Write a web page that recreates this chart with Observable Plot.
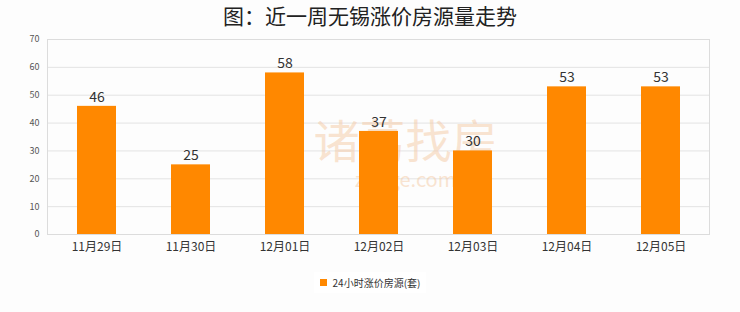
<!DOCTYPE html>
<html>
<head>
<meta charset="utf-8">
<script src="https://cdn.jsdelivr.net/npm/d3@7"></script>
<script src="https://cdn.jsdelivr.net/npm/@observablehq/plot@0.6"></script>
<style>
  html, body { margin: 0; padding: 0; background: #fdfdfd; width: 740px; height: 312px; overflow: hidden; }
  #title { height: 30px; line-height: 30px; text-align: center; font-family: "Noto Sans CJK SC", sans-serif; font-size: 21px; color: #222; }
  #legend { height: 24px; display: flex; justify-content: center; align-items: center; font-family: "Noto Sans CJK SC", sans-serif; font-size: 10px; color: #333; }
  #legend .box { display: flex; align-items: center; background: #fff; padding: 3px 6px; }
  #legend .sw { width: 7px; height: 7px; background: #ff8800; margin-right: 6px; }
</style>
</head>
<body>
<div id="title"></div>
<div id="chart"></div>
<div id="legend"></div>
<script>
const titleText = "图：近一周无锡涨价房源量走势";
const seriesName = "24小时涨价房源(套)";
const days = ["11月29日", "11月30日", "12月01日", "12月02日", "12月03日", "12月04日", "12月05日"];
const counts = [46, 25, 58, 37, 30, 53, 53];
const yTicks = [0, 10, 20, 30, 40, 50, 60, 70];
const watermark = ["诸葛找房"];
const watermarkUrl = ["zhuge.com"];

const data = days.map((d, i) => ({day: d, count: counts[i]}));

document.getElementById("title").textContent = titleText;
document.getElementById("legend").innerHTML =
  `<div class="box"><div class="sw"></div><span>${seriesName}</span></div>`;

const chart = Plot.plot({
  width: 740,
  height: 240,
  marginTop: 9,
  marginBottom: 36,
  marginLeft: 47,
  marginRight: 31,
  style: {background: "transparent", fontFamily: "'Noto Sans CJK SC', sans-serif"},
  x: {domain: days, paddingInner: 0.59, paddingOuter: 0.295, label: null},
  y: {domain: [0, 70], ticks: yTicks, label: null},
  marks: [
    Plot.gridY(yTicks, {stroke: "#e3e3e3", strokeOpacity: 1}),
    Plot.text(watermark, {frameAnchor: "middle", dx: 27, dy: 6, fontSize: 46, fill: "#f4c9a4", fillOpacity: 0.5}),
    Plot.text(watermarkUrl, {frameAnchor: "middle", dx: 27, dy: 44, fontSize: 20, fill: "#f4c9a4", fillOpacity: 0.5, style: "letter-spacing:9px"}),
    Plot.barY(data, {x: "day", y: "count", fill: "#ff8800"}),
    Plot.text(data, {x: "day", y: "count", text: d => String(d.count), dy: -9, fontSize: 14, fill: "#333"}),
    Plot.frame({stroke: "#dcdcdc"}),
    Plot.axisY({ticks: yTicks, tickSize: 0, tickPadding: 8, fontSize: 9, fill: "#555", label: null}),
    Plot.axisX({tickSize: 0, tickPadding: 8, fontSize: 12, fill: "#333", label: null})
  ]
});
document.getElementById("chart").appendChild(chart);
</script>
</body>
</html>
